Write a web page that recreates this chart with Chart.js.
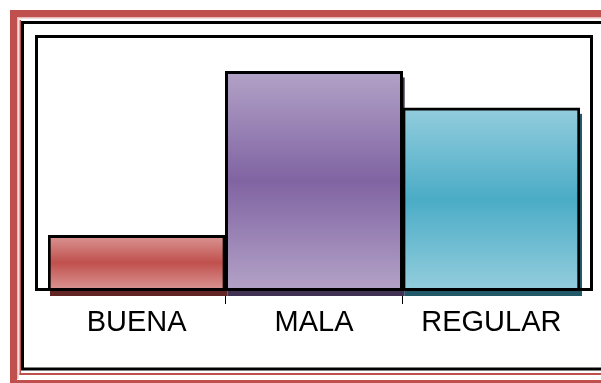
<!DOCTYPE html>
<html>
<head>
<meta charset="utf-8">
<script src="https://cdn.jsdelivr.net/npm/chart.js@4"></script>
<style>
    html, body { margin: 0; padding: 0; background: #fff; }
    #wrap { width: 601px; height: 383px; }
</style>
</head>
<body>
<div id="wrap"><canvas id="mainChart" width="601" height="383"></canvas></div>
<script>
// Data
const categories = ['BUENA', 'MALA', 'REGULAR'];
const values = [6, 24, 20];
const yMax = 28;

// Colors per bar (light edge, dark middle, shadow)
const lightColors = ['#DA9694', '#B3A2C7', '#93CDDD'];
const darkColors = ['#C0504D', '#8064A2', '#4BACC6'];
const shadowColors = ['#632523', '#403152', '#215968'];

// Vertical band gradient: light - dark - light
function bandFill(c) {
    const chart = c.chart;
    const y = chart.scales.y;
    const i = c.dataIndex || 0;
    if (!y || c.type !== 'data') return darkColors[i];
    const top = y.getPixelForValue(c.raw);
    const base = y.getPixelForValue(0);
    if (!isFinite(top) || !isFinite(base) || top === base) return darkColors[i];
    const g = chart.ctx.createLinearGradient(0, top, 0, base);
    g.addColorStop(0, lightColors[i]);
    g.addColorStop(0.5, darkColors[i]);
    g.addColorStop(1, lightColors[i]);
    return g;
}

// Page frame (red double line + black line)
const framePlugin = {
    id: 'frame',
    beforeDraw(chart) {
        const ctx = chart.ctx;
        ctx.save();
        ctx.fillStyle = '#fff';
        ctx.fillRect(0, 0, chart.width, chart.height);

        ctx.fillStyle = '#C0504D';
        ctx.fillRect(10, 10, chart.width - 10, 7);
        ctx.fillRect(10, 10, 7, chart.height - 10);
        ctx.fillRect(19.5, 20, 1.5, 355);
        ctx.fillRect(19.5, 373, chart.width - 19, 2);
        ctx.fillRect(10, 380, chart.width - 10, 3);

        ctx.fillStyle = '#E6B9B8';
        ctx.fillRect(17, 17, chart.width - 17, 1.5);
        ctx.fillRect(17, 17, 1.5, 362);

        ctx.strokeStyle = '#000';
        ctx.lineWidth = 3;
        ctx.strokeRect(22.5, 22.5, chart.width, 346.5);
        ctx.restore();
    },
    beforeDatasetsDraw(chart) {
        // bar shadows
        const ctx = chart.ctx;
        const meta = chart.getDatasetMeta(0);
        ctx.save();
        meta.data.forEach((bar, i) => {
            const p = bar.getProps(['x', 'y', 'base', 'width'], true);
            ctx.fillStyle = shadowColors[i];
            ctx.fillRect(p.x - p.width / 2 + 2, p.y + 6, p.width, p.base - p.y);
        });
        ctx.restore();
    },
    afterDraw(chart) {
        // plot box
        const a = chart.chartArea;
        const ctx = chart.ctx;
        ctx.save();
        ctx.strokeStyle = '#000';
        ctx.lineWidth = 3;
        ctx.strokeRect(a.left - 11.5, a.top + 1.5, a.right - a.left + 23, a.bottom - a.top - 2);
        ctx.restore();
    }
};

// Chart
const ctx = document.getElementById('mainChart');
const chart = new Chart(ctx, {
    type: 'bar',
    data: {
        labels: categories,
        datasets: [{
            data: values,
            backgroundColor: bandFill,
            borderColor: '#000',
            borderWidth: 3,
            borderSkipped: 'bottom',
            categoryPercentage: 1,
            barPercentage: 1
        }]
    },
    options: {
        responsive: false,
        animation: false,
        layout: { padding: { left: 48, right: 21, top: 35, bottom: 33 } },
        plugins: {
            legend: { display: false },
            tooltip: { enabled: false }
        },
        scales: {
            y: { display: false, min: 0, max: yMax },
            x: {
                border: { display: false },
                grid: {
                    offset: true,
                    drawOnChartArea: false,
                    tickLength: 14,
                    lineWidth: 1,
                    color: c => (c.index > 0 ? '#000' : 'rgba(0,0,0,0)')
                },
                ticks: {
                    color: '#000',
                    padding: 2,
                    font: { family: 'Liberation Sans', size: 29 }
                },
                afterFit: s => { s.height = 60; }
            }
        }
    },
    plugins: [framePlugin]
});
chart.update();
</script>
</body>
</html>
